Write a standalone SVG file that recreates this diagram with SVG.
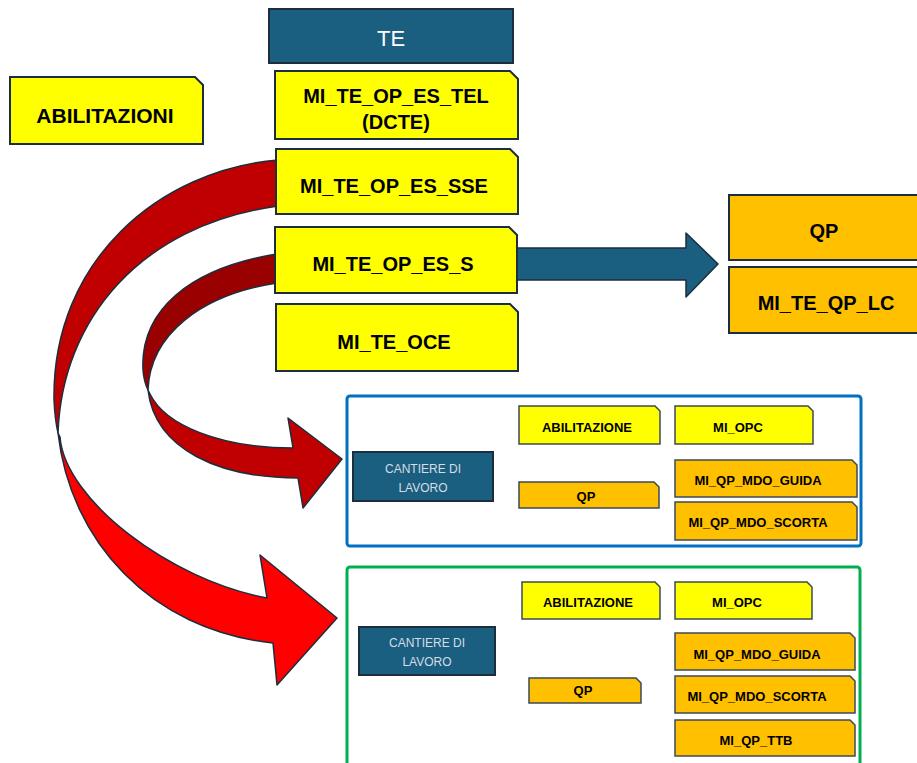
<svg xmlns="http://www.w3.org/2000/svg" width="917" height="763" viewBox="0 0 917 763">
<style>
.y{fill:#ffff00;stroke:#1c2e3d;stroke-width:2}
.o{fill:#ffc000;stroke:#1c2e3d;stroke-width:2}
.ys{fill:#ffff00;stroke:#3c4a55;stroke-width:1.5}
.os{fill:#ffc000;stroke:#3c4a55;stroke-width:1.5}
.dk{fill:#1a5e80;stroke:#1c2e3d;stroke-width:2}
.t{font-family:"Liberation Sans",Arial,sans-serif;font-weight:bold;fill:#000;text-anchor:middle}
.b{font-size:20px}
.s{font-size:13px}
.w{font-family:"Liberation Sans",Arial,sans-serif;text-anchor:middle}
.ar{stroke:#1c2e3d;stroke-width:1.5;stroke-linejoin:round}
</style>
<rect width="917" height="763" fill="#ffffff"/>
<g id="connectors">
<path class="ar" fill="#c00000" d="M278,160 C160,170 52,260 54,400 Q55,420 58,433 C62,320 140,225 278,206 Z"/>
<path class="ar" fill="#ff0000" d="M58,433 C70,540 150,630 273,643 L277,685 L337,618 L260,555 L267,598 C170,580 65,500 60,437 Z"/>
<path class="ar" fill="#990000" d="M277,254 C190,268 140,310 143,370 Q144,382 148,390 C150,335 200,295 277,283 Z"/>
<path class="ar" fill="#c00000" d="M148,390 C155,450 220,478 298,478 L303,508 L342,459 L288,418 L293,448 C220,448 165,425 150,394 Z"/>
<path class="ar" fill="#1a5e80" stroke-width="2" d="M517,248 H686 V233 L718,264 L686,297 V280 H517 Z"/>
</g>
<g id="te"><rect class="dk" x="269" y="9" width="244" height="54"/><text class="w" x="391" y="46" font-size="22" fill="#ffffff">TE</text></g>
<g id="abilitazioni"><path class="y" d="M10,77 H195 L203,85 V144 H10 Z"/><text class="t" x="105" y="123" font-size="21">ABILITAZIONI</text></g>
<g id="mi_te_op_es_tel"><path class="y" d="M275,71 H510 L518,79 V139 H275 Z"/><text class="t b" x="396" y="103">MI_TE_OP_ES_TEL</text><text class="t b" x="396" y="129">(DCTE)</text></g>
<g id="mi_te_op_es_sse"><path class="y" d="M276,149 H510 L518,157 V214 H276 Z"/><text class="t b" x="394" y="193">MI_TE_OP_ES_SSE</text></g>
<g id="mi_te_op_es_s"><path class="y" d="M275,227 H509 L517,235 V293 H275 Z"/><text class="t b" x="393" y="271">MI_TE_OP_ES_S</text></g>
<g id="mi_te_oce"><path class="y" d="M276,304 H510 L518,312 V371 H276 Z"/><text class="t b" x="394" y="349">MI_TE_OCE</text></g>
<g id="qp"><rect class="o" x="729" y="195" width="200" height="65"/><text class="t b" x="824" y="238">QP</text></g>
<g id="mi_te_qp_lc"><rect class="o" x="729" y="267" width="200" height="66"/><text class="t b" x="826" y="310">MI_TE_QP_LC</text></g>
<g id="cantiere1">
<rect x="347" y="396" width="514" height="150" rx="3" fill="none" stroke="#0070c0" stroke-width="3"/>
<g id="c1_cantiere"><rect class="dk" x="353" y="452" width="140" height="49" stroke-width="1.5"/><text class="w" x="423" y="473" font-size="12" fill="#d5dde5">CANTIERE DI</text><text class="w" x="423" y="492" font-size="12" fill="#d5dde5">LAVORO</text></g>
<g id="c1_abilitazione"><path class="ys" d="M519,406 H655 L660,411 V444 H519 Z"/><text class="t s" x="587" y="432">ABILITAZIONE</text></g>
<g id="c1_mi_opc"><path class="ys" d="M675,406 H808 L813,411 V444 H675 Z"/><text class="t s" x="738" y="432">MI_OPC</text></g>
<g id="c1_qp"><path class="os" d="M519,482 H654 L659,487 V508 H519 Z"/><text class="t s" x="586" y="501">QP</text></g>
<g id="c1_guida"><path class="os" d="M675,460 H852 L857,465 V497 H675 Z"/><text class="t s" x="758" y="485">MI_QP_MDO_GUIDA</text></g>
<g id="c1_scorta"><path class="os" d="M675,502 H852 L857,507 V540 H675 Z"/><text class="t s" x="758" y="527">MI_QP_MDO_SCORTA</text></g>
</g>
<g id="cantiere2">
<rect x="347" y="567" width="513" height="220" rx="3" fill="none" stroke="#00b050" stroke-width="3"/>
<g id="c2_cantiere"><rect class="dk" x="359" y="627" width="136" height="48" stroke-width="1.5"/><text class="w" x="427" y="647" font-size="12" fill="#d5dde5">CANTIERE DI</text><text class="w" x="427" y="666" font-size="12" fill="#d5dde5">LAVORO</text></g>
<g id="c2_abilitazione"><path class="ys" d="M522,582 H655 L660,587 V619 H522 Z"/><text class="t s" x="588" y="607">ABILITAZIONE</text></g>
<g id="c2_mi_opc"><path class="ys" d="M675,582 H807 L812,587 V619 H675 Z"/><text class="t s" x="737" y="607">MI_OPC</text></g>
<g id="c2_qp"><path class="os" d="M529,678 H636 L641,683 V703 H529 Z"/><text class="t s" x="583" y="695">QP</text></g>
<g id="c2_guida"><path class="os" d="M675,633 H850 L855,638 V670 H675 Z"/><text class="t s" x="757" y="659">MI_QP_MDO_GUIDA</text></g>
<g id="c2_scorta"><path class="os" d="M675,676 H850 L855,681 V713 H675 Z"/><text class="t s" x="757" y="701">MI_QP_MDO_SCORTA</text></g>
<g id="c2_ttb"><path class="os" d="M675,720 H850 L855,725 V756 H675 Z"/><text class="t s" x="756" y="745">MI_QP_TTB</text></g>
</g>
</svg>
